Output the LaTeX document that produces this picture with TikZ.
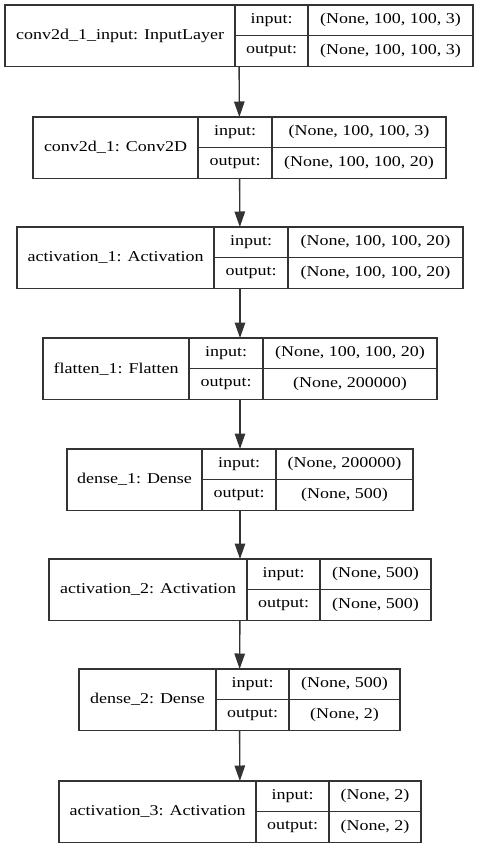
\documentclass[tikz,border=0pt]{standalone}
\usepackage{fontspec}
\setmainfont[FakeStretch=1.2]{Liberation Serif}
\usepackage{tikz}
\usetikzlibrary{positioning,fit,arrows.meta}
\tikzset{
	>={Triangle[width=10.5pt,length=15.5pt]},
	cell/.style={draw=black!80, line width=1.1pt, inner sep=0pt, outer sep=0pt,
		anchor=north west, minimum height=61.5pt, font=\fontsize{15}{17}\selectfont},
	half/.style={cell, minimum height=30.75pt},
	layer/.style={inner sep=0pt, outer sep=0pt},
	flow/.style={->, draw=black!80, line width=1.4pt},
}

\begin{document}
\begin{tikzpicture}[x=1pt, y=-1pt]
		\useasboundingbox (0,0) rectangle (480,848);
		% conv2d_1_input
		\node[cell, minimum width=230pt] (inp) at (5,5) {conv2d\_1\_input: InputLayer};
		\node[half, minimum width=73pt] (inpin) at (235,5) {input:};
		\node[half, minimum width=73pt] (inpout) at (235,35.75) {output:};
		\node[half, minimum width=165pt] (inpinval) at (308,5) {(None, 100, 100, 3)};
		\node[half, minimum width=165pt] (inpoutval) at (308,35.75) {(None, 100, 100, 3)};
		\node[layer, fit=(inp)(inpinval)(inpoutval)] (inpbox) {};
		% conv2d_1
		\node[cell, minimum width=165pt] (conv) at (33,117) {conv2d\_1: Conv2D};
		\node[half, minimum width=74pt] (convin) at (198,117) {input:};
		\node[half, minimum width=74pt] (convout) at (198,147.75) {output:};
		\node[half, minimum width=174pt] (convinval) at (272,117) {(None, 100, 100, 3)};
		\node[half, minimum width=174pt] (convoutval) at (272,147.75) {(None, 100, 100, 20)};
		\node[layer, fit=(conv)(convinval)(convoutval)] (convbox) {};
		% activation_1
		\node[cell, minimum width=197pt] (actone) at (17,227) {activation\_1: Activation};
		\node[half, minimum width=74pt] (actonein) at (214,227) {input:};
		\node[half, minimum width=74pt] (actoneout) at (214,257.75) {output:};
		\node[half, minimum width=175pt] (actoneinval) at (288,227) {(None, 100, 100, 20)};
		\node[half, minimum width=175pt] (actoneoutval) at (288,257.75) {(None, 100, 100, 20)};
		\node[layer, fit=(actone)(actoneinval)(actoneoutval)] (actonebox) {};
		% flatten_1
		\node[cell, minimum width=146pt] (flat) at (43,338) {flatten\_1: Flatten};
		\node[half, minimum width=74pt] (flatin) at (189,338) {input:};
		\node[half, minimum width=74pt] (flatout) at (189,368.75) {output:};
		\node[half, minimum width=174pt] (flatinval) at (263,338) {(None, 100, 100, 20)};
		\node[half, minimum width=174pt] (flatoutval) at (263,368.75) {(None, 200000)};
		\node[layer, fit=(flat)(flatinval)(flatoutval)] (flatbox) {};
		% dense_1
		\node[cell, minimum width=135pt] (denseone) at (67,449) {dense\_1: Dense};
		\node[half, minimum width=74pt] (denseonein) at (202,449) {input:};
		\node[half, minimum width=74pt] (denseoneout) at (202,479.75) {output:};
		\node[half, minimum width=137pt] (denseoneinval) at (276,449) {(None, 200000)};
		\node[half, minimum width=137pt] (denseoneoutval) at (276,479.75) {(None, 500)};
		\node[layer, fit=(denseone)(denseoneinval)(denseoneoutval)] (denseonebox) {};
		% activation_2
		\node[cell, minimum width=198pt] (acttwo) at (49,559) {activation\_2: Activation};
		\node[half, minimum width=73pt] (acttwoin) at (247,559) {input:};
		\node[half, minimum width=73pt] (acttwoout) at (247,589.75) {output:};
		\node[half, minimum width=111pt] (acttwoinval) at (320,559) {(None, 500)};
		\node[half, minimum width=111pt] (acttwooutval) at (320,589.75) {(None, 500)};
		\node[layer, fit=(acttwo)(acttwoinval)(acttwooutval)] (acttwobox) {};
		% dense_2
		\node[cell, minimum width=137pt] (densetwo) at (79,669) {dense\_2: Dense};
		\node[half, minimum width=73pt] (densetwoin) at (216,669) {input:};
		\node[half, minimum width=73pt] (densetwoout) at (216,699.75) {output:};
		\node[half, minimum width=111pt] (densetwoinval) at (289,669) {(None, 500)};
		\node[half, minimum width=111pt] (densetwooutval) at (289,699.75) {(None, 2)};
		\node[layer, fit=(densetwo)(densetwoinval)(densetwooutval)] (densetwobox) {};
		% activation_3
		\node[cell, minimum width=197pt] (actthree) at (59,781) {activation\_3: Activation};
		\node[half, minimum width=73pt] (actthreein) at (256,781) {input:};
		\node[half, minimum width=73pt] (actthreeout) at (256,811.75) {output:};
		\node[half, minimum width=92pt] (actthreeinval) at (329,781) {(None, 2)};
		\node[half, minimum width=92pt] (actthreeoutval) at (329,811.75) {(None, 2)};
		\node[layer, fit=(actthree)(actthreeinval)(actthreeoutval)] (actthreebox) {};
		% edges
		\draw[flow] (inpbox) -- (convbox);
		\draw[flow] (convbox) -- (actonebox);
		\draw[flow] (actonebox) -- (flatbox);
		\draw[flow] (flatbox) -- (denseonebox);
		\draw[flow] (denseonebox) -- (acttwobox);
		\draw[flow] (acttwobox) -- (densetwobox);
		\draw[flow] (densetwobox) -- (actthreebox);
	\end{tikzpicture}
\end{document}
